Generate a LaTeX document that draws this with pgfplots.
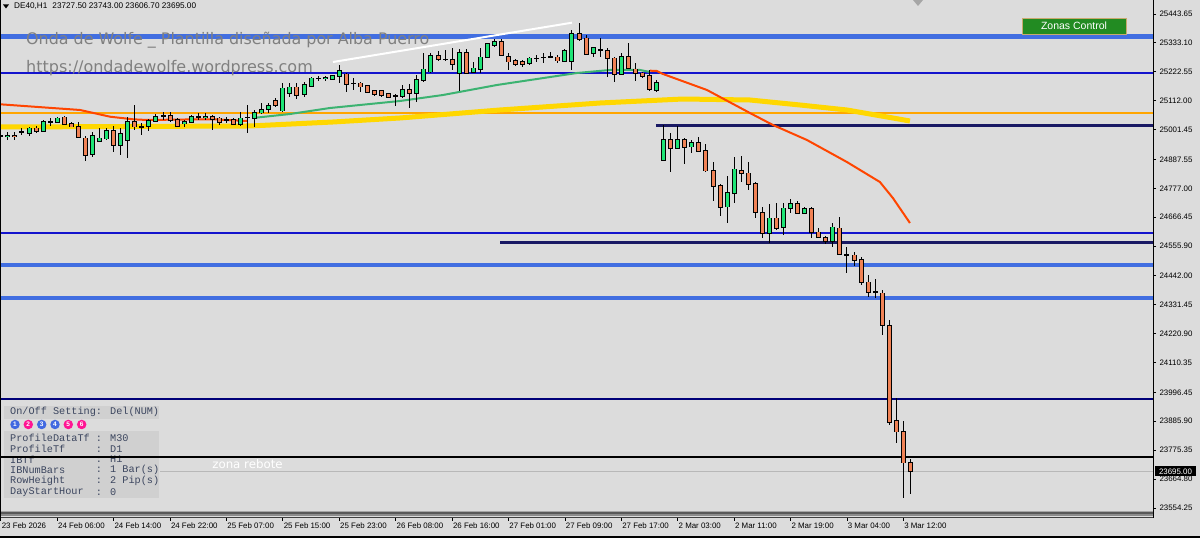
\documentclass[border=0pt]{standalone}
\usepackage{pgfplots}
\pgfplotsset{compat=1.18}
\usepackage{pgfplotstable}
\usepackage{fontspec}
\setmainfont{Liberation Sans}
\newfontfamily\wmfont{DejaVu Sans}
\newfontfamily\monofont{Liberation Mono}

\definecolor{chartbg}{RGB}{220,220,220}
\definecolor{bull}{RGB}{30,228,118}
\definecolor{bear}{RGB}{240,130,85}
\definecolor{zoneblue}{RGB}{65,110,225}
\definecolor{lvlblue}{RGB}{20,20,205}
\definecolor{midnight}{RGB}{25,25,100}
\definecolor{navylvl}{RGB}{0,0,120}
\definecolor{maorange}{RGB}{255,69,0}
\definecolor{magreen}{RGB}{60,179,113}
\definecolor{magold}{RGB}{255,215,0}
\definecolor{lvlorange}{RGB}{255,165,0}
\definecolor{panelbg}{RGB}{208,208,208}
\definecolor{paneltext}{RGB}{60,70,95}
\definecolor{dotblue}{RGB}{65,105,225}
\definecolor{dotpink}{RGB}{255,20,147}
\definecolor{btngreen}{RGB}{34,139,34}
\definecolor{btnborder}{RGB}{200,170,110}

% DE40 H1 candles: bar index, open, high, low, close
\pgfplotstableread{
i o h l c
0 24977.0 24992.3 24961.7 24977.0
1 24977.0 24992.3 24961.7 24978.0
2 24978.0 24992.3 24961.7 24977.5
3 24993.5 25007.6 24980.8 24993.5
4 24989.6 25012.6 24977.0 25006.4
5 25006.4 25015.3 24989.6 24996.1
6 24996.1 25038.2 24993.5 25031.7
7 25031.7 25045.9 25015.3 25031.7
8 25031.7 25050.8 25026.7 25044.7
9 25048.5 25053.5 25019.1 25022.9
10 25024.0 25031.7 25011.0 25012.6
11 25012.6 25031.7 24968.2 24972.0
12 24968.2 24977.0 24881.4 24904.3
13 24908.2 24993.5 24897.8 24977.0
14 24959.0 25006.4 24955.2 24968.2
15 24966.7 25006.4 24961.7 24997.3
16 24996.1 25015.3 24917.0 24942.6
17 24941.4 25006.4 24904.3 24984.7
18 24961.7 25050.8 24891.7 25031.7
19 25031.7 25095.6 25000.0 25012.6
20 25012.6 25025.6 24980.8 25012.6
21 25015.3 25040.9 24997.3 25034.4
22 25035.5 25061.1 25030.6 25050.8
23 25053.5 25068.8 25038.2 25053.5
24 25054.6 25069.9 25031.7 25038.2
25 25038.2 25044.7 25012.6 25016.4
26 25025.6 25038.2 25012.6 25031.7
27 25029.4 25057.3 25025.6 25050.8
28 25050.8 25065.0 25038.2 25050.8
29 25050.8 25065.0 25038.2 25051.5
30 25050.8 25057.3 25000.0 25040.9
31 25044.7 25050.8 25019.1 25031.7
32 25038.2 25050.8 25025.6 25038.2
33 25038.2 25044.7 25019.1 25021.7
34 25021.7 25069.9 25015.3 25044.7
35 25048.5 25095.6 24987.3 25048.5
36 25044.7 25076.5 25012.6 25066.1
37 25066.1 25104.4 25061.1 25076.5
38 25079.1 25104.4 25066.1 25091.8
39 25112.0 25121.2 25089.1 25095.6
40 25073.8 25178.6 25069.9 25159.4
41 25140.3 25178.6 25127.3 25163.3
42 25163.3 25178.6 25117.4 25133.8
43 25136.5 25184.7 25127.3 25172.1
44 25169.4 25203.8 25165.6 25197.7
45 25197.7 25206.5 25187.4 25197.7
46 25197.7 25206.5 25187.4 25198.5
47 25195.0 25211.5 25191.2 25206.5
48 25206.5 25248.6 25178.6 25226.8
49 25213.0 25216.8 25146.4 25174.8
50 25178.6 25198.9 25153.0 25178.6
51 25178.6 25184.7 25146.4 25165.6
52 25168.3 25172.1 25140.3 25146.4
53 25150.3 25153.0 25130.0 25137.7
54 25149.1 25153.0 25126.2 25133.8
55 25137.7 25142.6 25121.2 25127.3
56 25130.0 25137.7 25091.8 25130.0
57 25131.1 25172.1 25121.2 25153.0
58 25153.0 25175.9 25082.9 25142.6
59 25142.6 25210.3 25108.2 25191.2
60 25191.2 25293.3 25184.7 25232.1
61 25223.0 25293.3 25216.8 25283.0
62 25283.0 25303.3 25265.0 25270.4
63 25270.4 25305.9 25265.0 25270.4
64 25267.7 25312.5 25229.5 25252.4
65 25216.8 25308.6 25150.3 25295.6
66 25295.6 25308.6 25215.0 25216.8
67 25223.0 25261.2 25216.8 25235.9
68 25232.1 25312.5 25216.8 25278.0
69 25278.0 25331.6 25274.2 25328.9
70 25325.1 25346.9 25318.6 25337.7
71 25337.7 25346.9 25283.0 25286.8
72 25280.3 25293.3 25229.5 25261.2
73 25263.9 25270.4 25244.8 25252.4
74 25261.2 25267.7 25242.1 25251.3
75 25255.1 25278.0 25248.6 25274.2
76 25274.2 25286.8 25260.0 25274.2
77 25278.0 25293.3 25255.1 25278.0
78 25280.3 25299.4 25274.2 25280.3
79 25278.0 25286.8 25257.4 25265.0
80 25265.0 25308.6 25261.2 25303.3
81 25265.0 25382.5 25229.5 25367.2
82 25367.2 25408.1 25341.5 25348.0
83 25350.7 25363.3 25286.8 25290.7
84 25293.3 25318.6 25280.3 25312.5
85 25305.9 25350.7 25280.3 25305.9
86 25303.3 25312.5 25201.5 25274.2
87 25274.2 25278.0 25182.4 25214.2
88 25213.0 25293.3 25210.3 25280.3
89 25280.3 25331.6 25232.1 25235.9
90 25232.1 25255.1 25188.5 25216.8
91 25216.8 25223.0 25197.7 25207.6
92 25206.5 25229.5 25150.3 25155.6
93 25153.0 25191.2 25146.4 25180.9
94 24885.2 25019.1 24880.0 24961.7
95 24961.7 24987.3 24838.2 24930.0
96 24930.0 25015.3 24926.1 24961.7
97 24961.7 24968.2 24869.9 24933.8
98 24936.1 24961.7 24910.8 24951.4
99 24951.4 24974.3 24914.6 24920.8
100 24920.8 24946.4 24840.5 24844.3
101 24844.3 24878.7 24729.5 24785.8
102 24786.9 24793.4 24671.0 24704.3
103 24706.6 24824.0 24643.1 24760.1
104 24760.1 24897.8 24721.9 24849.6
105 24844.3 24900.5 24802.2 24834.3
106 24834.3 24876.4 24770.4 24793.4
107 24793.4 24802.2 24662.2 24687.4
108 24683.6 24704.3 24585.7 24607.1
109 24607.1 24716.9 24568.9 24662.2
110 24662.2 24719.6 24617.5 24623.9
111 24627.8 24719.6 24598.3 24700.4
112 24700.4 24734.9 24681.3 24716.9
113 24716.9 24729.5 24678.7 24681.3
114 24681.3 24706.6 24678.7 24697.8
115 24697.8 24704.3 24585.7 24608.6
116 24608.6 24623.9 24585.7 24589.5
117 24586.9 24594.5 24563.9 24576.5
118 24576.5 24643.1 24553.6 24627.8
119 24623.9 24666.0 24521.8 24525.7
120 24521.8 24553.6 24451.8 24521.8
121 24520.7 24534.4 24481.4 24502.7
122 24502.7 24513.0 24407.1 24417.4
123 24417.4 24445.3 24362.3 24379.2
124 24381.5 24428.9 24356.2 24381.5
125 24375.3 24388.0 24215.8 24252.9
126 24250.2 24273.2 23871.6 23884.2
127 23887.0 23973.7 23801.6 23846.0
128 23846.0 23886.9 23591.2 23728.0
129 23727.5 23743.0 23606.7 23695.0
}\candles

\begin{document}
\begin{tikzpicture}
\fill[chartbg] (0,0) rectangle (1200pt,538pt);

% info panel (under the chart lines)
\begin{scope}[x=1pt, y=-1pt, shift={(0pt,538pt)}]
  \fill[panelbg] (4,406) rectangle (159,419);
  \fill[panelbg] (4,431) rectangle (159,498);
  \begin{scope}[every node/.style={anchor=west, inner sep=0, text=paneltext, font=\monofont\fontsize{10.2}{11}\selectfont}]
    \node at (10,412) {On/Off Setting: Del(NUM)};
    \node at (10,438) {ProfileDataTf};  \node at (95.7,438) {: M30};
    \node at (10,449) {ProfileTf};      \node at (95.7,449) {: D1};
    \node at (10,459.5) {IBTf};         \node at (95.7,459.5) {: H1};
    \node at (10,470) {IBNumBars};      \node at (95.7,470) {: 1 Bar(s)};
    \node at (10,481) {RowHeight};      \node at (95.7,481) {: 2 Pip(s)};
    \node at (10,492) {DayStartHour};   \node at (95.7,492) {: 0};
  \end{scope}
  \foreach \cx/\col/\d in {15/dotblue/1, 28.3/dotpink/2, 41.7/dotblue/3, 55/dotblue/4, 68.3/dotpink/5, 81.7/dotpink/6}
    \node[circle, fill=\col, inner sep=0, minimum size=9.5pt, text=white, font=\bfseries\fontsize{6.5}{7}\selectfont] at (\cx,424.5) {\d};
\end{scope}

\begin{axis}[
  at={(0pt,20pt)}, anchor=south west,
  scale only axis, width=1153pt, height=518pt,
  xmin=-0.12, xmax=163.4, ymin=23515.85, ymax=25497.2,
  axis x line*=bottom, axis y line*=right,
  axis line style={black, line width=1pt},
  x axis line style={draw=black!60},
  tick align=outside, major tick length=3pt,
  tick style={black, line width=0.8pt},
  xtick={0,8,...,128},
  xticklabels={23 Feb 2026, 24 Feb 06:00, 24 Feb 14:00, 24 Feb 22:00, 25 Feb 07:00, 25 Feb 15:00, 25 Feb 23:00, 26 Feb 08:00, 26 Feb 16:00, 27 Feb 01:00, 27 Feb 09:00, 27 Feb 17:00, 2 Mar 03:00, 2 Mar 11:00, 2 Mar 19:00, 3 Mar 04:00, 3 Mar 12:00},
  ytick={25443.65,25333.10,25222.55,25112.00,25001.45,24887.55,24777.00,24666.45,24555.90,24442.00,24331.45,24220.90,24110.35,23996.45,23885.90,23775.35,23664.80,23554.25},
  yticklabels={25443.65,25333.10,25222.55,25112.00,25001.45,24887.55,24777.00,24666.45,24555.90,24442.00,24331.45,24220.90,24110.35,23996.45,23885.90,23775.35,23664.80,23554.25},
  ticklabel style={font=\fontsize{7.9}{9}\selectfont},
  xticklabel style={anchor=north west, xshift=-2.6pt, yshift=2pt},
  yticklabel style={anchor=west},
]
% bottom bands
\addplot[black!35, line width=1pt, forget plot] coordinates {(-0.12,23542.6) (163.4,23542.6)};
\addplot[black!65, line width=1.5pt, forget plot] coordinates {(-0.12,23534.9) (163.4,23534.9)};
\addplot[black!45, line width=1.5pt, forget plot] coordinates {(-0.12,23527.3) (163.4,23527.3)};
\addplot[black!75, line width=1pt, forget plot] coordinates {(-0.12,23519.6) (163.4,23519.6)};

% zone levels
\addplot[zoneblue, line width=5pt] coordinates {(-0.12,25357.6) (163.4,25357.6)};
\addplot[lvlblue, line width=2pt] coordinates {(-0.12,25218.0) (163.4,25218.0)};
\addplot[lvlorange, line width=2pt] coordinates {(-0.12,25066.1) (163.4,25066.1)};
\addplot[midnight, line width=3pt] coordinates {(92.9,25016.4) (163.4,25016.4)};
\addplot[lvlblue, line width=2pt] coordinates {(-0.12,24606.0) (163.4,24606.0)};
\addplot[midnight, line width=3pt] coordinates {(70.8,24568.9) (163.4,24568.9)};
\addplot[zoneblue, line width=4pt] coordinates {(-0.12,24484.7) (163.4,24484.7)};
\addplot[zoneblue, line width=4pt] coordinates {(-0.12,24357.2) (163.4,24357.2)};
\addplot[navylvl, line width=2pt] coordinates {(-0.12,23969.9) (163.4,23969.9)};
\addplot[black, line width=2pt] coordinates {(-0.12,23749.2) (163.4,23749.2)};
\addplot[black!28, line width=1pt] coordinates {(22.6,23695.0) (163.4,23695.0)};

% moving averages
\addplot[magold, line width=5pt, line join=round] coordinates {
  (-0.11,25011.4) (35.34,25015.3) (47.11,25030.6) (56.61,25045.9) (70.79,25076.5)
  (84.97,25103.2) (96.74,25118.5) (106.24,25114.7) (113.33,25095.6) (119.99,25076.5) (128.93,25034.4)};
\addplot[maorange, line width=2pt, line join=round] coordinates {
  (-0.11,25098.3) (11.23,25076.5) (15.49,25050.8) (18.75,25040.9) (20.73,25038.2)
  (26.12,25040.1) (30.09,25040.9) (34.91,25034.4)};
\addplot[maorange, line width=2pt, line join=round] coordinates {
  (92.06,25226.8) (93.05,25225.6) (93.9,25214.2) (100.14,25153.0) (106.24,25064.9)
  (109.5,25019.1) (114.32,24961.7) (119.99,24877.5) (124.67,24801.0) (126.51,24739.8) (128.93,24644.2)};
\addplot[magreen, line width=2pt, line join=round] coordinates {
  (35.76,25045.9) (41.01,25061.1) (46.68,25084.1) (56.61,25110.9) (62.7,25133.8)
  (70.36,25172.1) (81.71,25218.0) (86.39,25229.5) (90.64,25229.5) (92.06,25221.8)};

% trend line
\addplot[white, line width=2pt] coordinates {(47.1,25260.0) (81.0,25410.4)};

% candles: wicks, body outline, body fill
\addplot[draw=none, mark=none, forget plot,
  error bars/.cd, y dir=both, y explicit, error mark=none,
  error bar style={draw=black, line width=1pt}]
  table[x=i, y expr={(\thisrow{h}+\thisrow{l})/2}, y error expr={(\thisrow{h}-\thisrow{l})/2}] {\candles};
\addplot[draw=none, mark=none, forget plot,
  error bars/.cd, y dir=both, y explicit, error mark=none,
  error bar style={draw=black, line width=5pt}]
  table[x=i, y expr={(\thisrow{o}+\thisrow{c})/2}, y error expr={abs(\thisrow{c}-\thisrow{o})/2+3}] {\candles};
\addplot[draw=none, mark=none, forget plot,
  error bars/.cd, y dir=both, y explicit, error mark=none,
  error bar style={draw=bull, line width=3pt}]
  table[x=i, y expr={(\thisrow{o}+\thisrow{c})/2}, y error expr={max(\thisrow{c}-\thisrow{o},0)/2}] {\candles};
\addplot[draw=none, mark=none, forget plot,
  error bars/.cd, y dir=both, y explicit, error mark=none,
  error bar style={draw=bear, line width=3pt}]
  table[x=i, y expr={(\thisrow{o}+\thisrow{c})/2}, y error expr={max(\thisrow{o}-\thisrow{c},0)/2}] {\candles};
\end{axis}

\begin{scope}[x=1pt, y=-1pt, shift={(0pt,538pt)}]
  \draw[black, line width=1pt] (0.5,0) -- (0.5,518);
  \draw[black, line width=1.5pt] (0,537) -- (1200,537);
  \fill[black!35] (913,0) -- (923,0) -- (918,6) -- cycle;
  % header
  \fill[black] (3,4.5) -- (9,4.5) -- (6,8.5) -- cycle;
  \node[anchor=west, inner sep=0, font=\fontsize{8.2}{9}\selectfont] at (14,6.5) {DE40,H1\hspace{5pt}23727.50 23743.00 23606.70 23695.00};
  % watermark
  \node[anchor=west, inner sep=0, text=black!50, font=\wmfont\fontsize{15.9}{18}\selectfont] at (26,40) {Onda de Wolfe \_ Plantilla diseñada por Alba Puerro};
  \node[anchor=west, inner sep=0, text=black!50, font=\wmfont\fontsize{16}{18}\selectfont] at (26,68) {https://ondadewolfe.wordpress.com};
  % button
  \draw[fill=btngreen, draw=btnborder, line width=0.8pt] (1022,18) rectangle (1126,34);
  \node[text=white, inner sep=0, font=\fontsize{10.5}{12}\selectfont] at (1074,26) {Zonas Control};
  % price marker
  \fill[black] (1155,466) rectangle (1196,476.5);
  \node[text=white, inner sep=0, font=\fontsize{7.9}{9}\selectfont] at (1175.5,471.3) {23695.00};
  % label
  \node[text=white, inner sep=0, font=\wmfont\fontsize{11.8}{13}\selectfont] at (247.5,464) {zona rebote};
\end{scope}
\pgfresetboundingbox
\path[use as bounding box] (0,0) rectangle (1200pt,538pt);
\end{tikzpicture}
\end{document}
